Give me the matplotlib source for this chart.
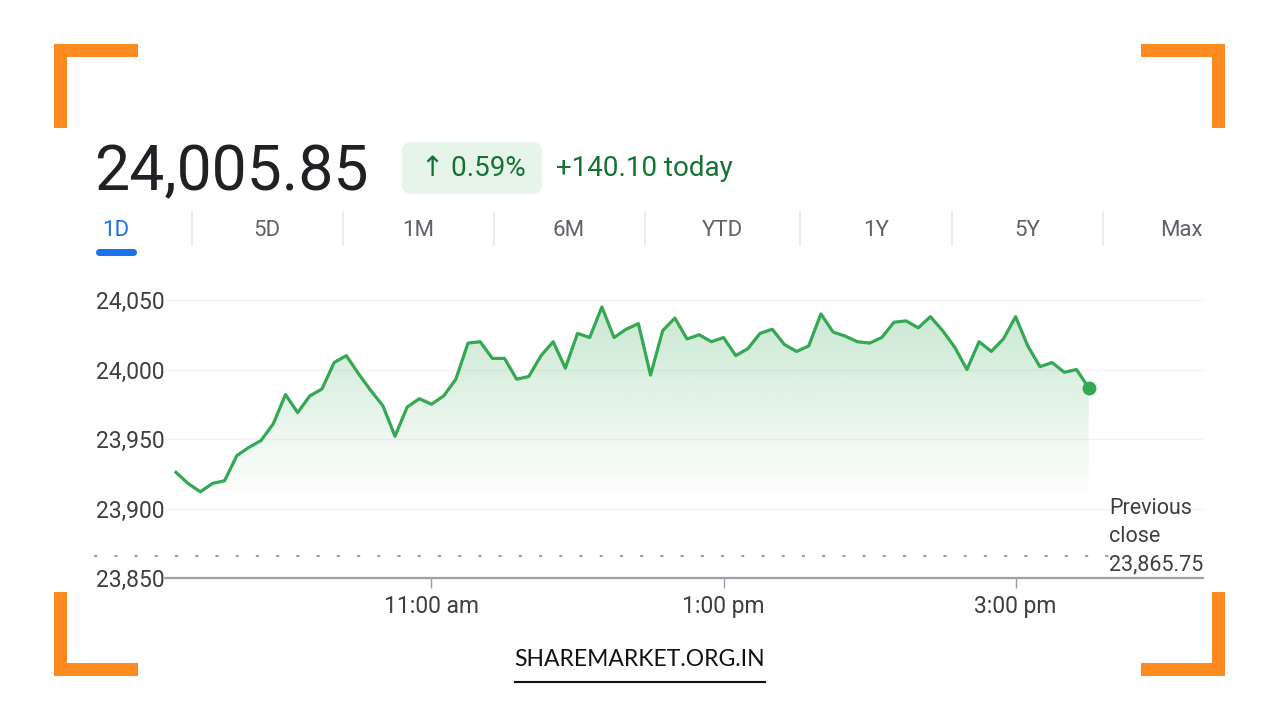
import numpy as np
import pandas as pd
import matplotlib
matplotlib.use("Agg")
import matplotlib.pyplot as plt
from matplotlib.patches import Rectangle, FancyBboxPatch
from matplotlib.lines import Line2D
import matplotlib.transforms as mtransforms

plt.rcParams['font.family'] = ['Roboto', 'DejaVu Sans']

# index level every 5 minutes, 9:15 -> 15:30
values = [23926, 23918, 23912, 23918, 23920, 23938, 23944, 23949, 23961, 23982,
          23969, 23981, 23986, 24005, 24010, 23997, 23985, 23974, 23952, 23973,
          23979, 23975, 23981, 23993, 24019, 24020, 24008, 24008, 23993, 23995,
          24010, 24020, 24001, 24026, 24023, 24045, 24023, 24029, 24033, 23996,
          24028, 24037, 24022, 24025, 24020, 24023, 24010, 24015, 24026, 24029,
          24018, 24013, 24017, 24040, 24027, 24024, 24020, 24019, 24023, 24034,
          24035, 24030, 24038, 24028, 24016, 24000, 24020, 24013, 24022, 24038,
          24017, 24002, 24005, 23998, 24000, 23987]
prev_close = 23865.75
y_ticks = [23850, 23900, 23950, 24000, 24050]
x_tick_times = ["11:00", "13:00", "15:00"]
x_tick_labels = ["11:00 am", "1:00 pm", "3:00 pm"]
tabs = ["1D", "5D", "1M", "6M", "YTD", "1Y", "5Y", "Max"]
price_text = "24,005.85"
pct_text = "\u2191 0.59%"
change_text = "+140.10 today"

W, H = 1280, 720
GREEN = '#34a853'
ORANGE = '#fd8a1f'


def minutes(t):
    h, m = t.split(":")
    return int(h) * 60 + int(m)


times = pd.date_range("09:15", periods=len(values), freq="5min")
x = np.array([t.hour * 60 + t.minute for t in times], dtype=float)
y = np.array(values, dtype=float)


def fx(px):
    return px / W


def fy(py):
    return 1 - py / H


fig = plt.figure(figsize=(12.8, 7.2), dpi=100)
fig.patch.set_facecolor('white')

# ---- chart
ax = fig.add_axes([fx(165), fy(578), (1203 - 165) / W, (578 - 290) / H])

for v in y_ticks[1:]:
    ax.axhline(v, color='#f1f3f4', lw=1, zorder=0)

poly = ax.fill_between(x, y, 23850, facecolor='none', edgecolor='none')
grad = np.zeros((100, 1, 4))
grad[:, 0, :3] = matplotlib.colors.to_rgb(GREEN)
grad[:, 0, 3] = np.linspace(0.27, 0.0, 100)
im = ax.imshow(grad, extent=[x[0], x[-1], 23905, 24048], aspect='auto',
               origin='upper', zorder=1, interpolation='bilinear')
im.set_clip_path(poly.get_paths()[0], transform=ax.transData)
ax.set_xlim(550.5, 977)
ax.set_ylim(23850, 24057.2)

ax.plot(x, y, color=GREEN, lw=2.3, zorder=3)
ax.plot(x[-1], y[-1], 'o', color=GREEN, ms=9, zorder=4)

# previous close dotted line (extends under the y labels)
trans = mtransforms.blended_transform_factory(ax.transAxes, ax.transData)
ax.plot([-0.067, 0.915], [prev_close, prev_close], transform=trans, clip_on=False,
        color='#9aa0a6', lw=1.6, linestyle=(0, (0.6, 8.5)), dash_capstyle='round')

for s in ['top', 'right', 'left']:
    ax.spines[s].set_visible(False)
ax.spines['bottom'].set_color('#9aa0a6')
ax.spines['bottom'].set_linewidth(1.6)

ax.set_yticks(y_ticks)
ax.set_yticklabels([f"{v:,}" for v in y_ticks])
ax.tick_params(axis='y', length=0, pad=49.5, labelsize=16.5, labelcolor='#3c4043')
for lab in ax.get_yticklabels():
    lab.set_horizontalalignment('left')

ax.set_xticks([minutes(t) for t in x_tick_times])
ax.set_xticklabels(x_tick_labels)
ax.tick_params(axis='x', length=7, width=1, color='#9aa0a6', pad=5,
               labelsize=16.5, labelcolor='#3c4043')

for txt, py in [("Previous", 508), ("close", 536), (f"{prev_close:,.2f}", 565)]:
    fig.text(fx(1109), fy(py), txt, fontsize=15.5, color='#3c4043', va='center', ha='left')

# ---- header
fig.text(fx(94), fy(190), price_text, fontsize=45, color='#202124', va='baseline', ha='left')
fig.add_artist(FancyBboxPatch((fx(402), fy(194)), fx(140), 52 / H,
                              boxstyle="round,pad=0,rounding_size=0.008",
                              transform=fig.transFigure, facecolor='#e6f4ea',
                              edgecolor='none', mutation_aspect=W / H))
fig.text(fx(473), fy(168), pct_text, fontsize=20, color='#137333', va='center', ha='center')
fig.text(fx(556), fy(168), change_text, fontsize=20, color='#137333', va='center', ha='left')

# ---- range tabs
tab_x = [116, 267, 418, 569, 722, 876, 1027, 1181]
sep_x = [192, 343, 494, 645, 800, 952, 1103]
for lbl, tx in zip(tabs, tab_x):
    col = '#1a73e8' if lbl == "1D" else '#5f6368'
    fig.text(fx(tx), fy(230), lbl, fontsize=16, color=col, va='center', ha='center')
for sx in sep_x:
    fig.add_artist(Line2D([fx(sx), fx(sx)], [fy(212), fy(245)], color='#e8eaed', lw=1.2))
fig.add_artist(FancyBboxPatch((fx(96), fy(256)), fx(41), 7 / H,
                              boxstyle="round,pad=0,rounding_size=0.003",
                              transform=fig.transFigure, facecolor='#1a73e8',
                              edgecolor='none', mutation_aspect=W / H))

# ---- orange corner brackets
t = 13
for (cx, cy, dx, dy) in [(54, 44, 1, 1), (1225, 44, -1, 1), (54, 676, 1, -1), (1225, 676, -1, -1)]:
    x0 = cx if dx > 0 else cx - 84
    y0 = cy if dy > 0 else cy - 84
    hy = cy if dy > 0 else cy - t
    fig.add_artist(Rectangle((fx(x0), fy(hy + t)), fx(84), t / H, transform=fig.transFigure,
                             facecolor=ORANGE, edgecolor='none'))
    vx = cx if dx > 0 else cx - t
    fig.add_artist(Rectangle((fx(vx), fy(y0 + 84)), fx(t), 84 / H, transform=fig.transFigure,
                             facecolor=ORANGE, edgecolor='none'))

# ---- footer
fig.text(fx(640), fy(660), "SHAREMARKET.ORG.IN", fontsize=16.5, color='#111111',
         va='center', ha='center', family=['Lato', 'DejaVu Sans'])
fig.add_artist(Line2D([fx(515), fx(765)], [fy(682), fy(682)], color='#111111', lw=1.5))

fig.savefig("out.png", dpi=100)
